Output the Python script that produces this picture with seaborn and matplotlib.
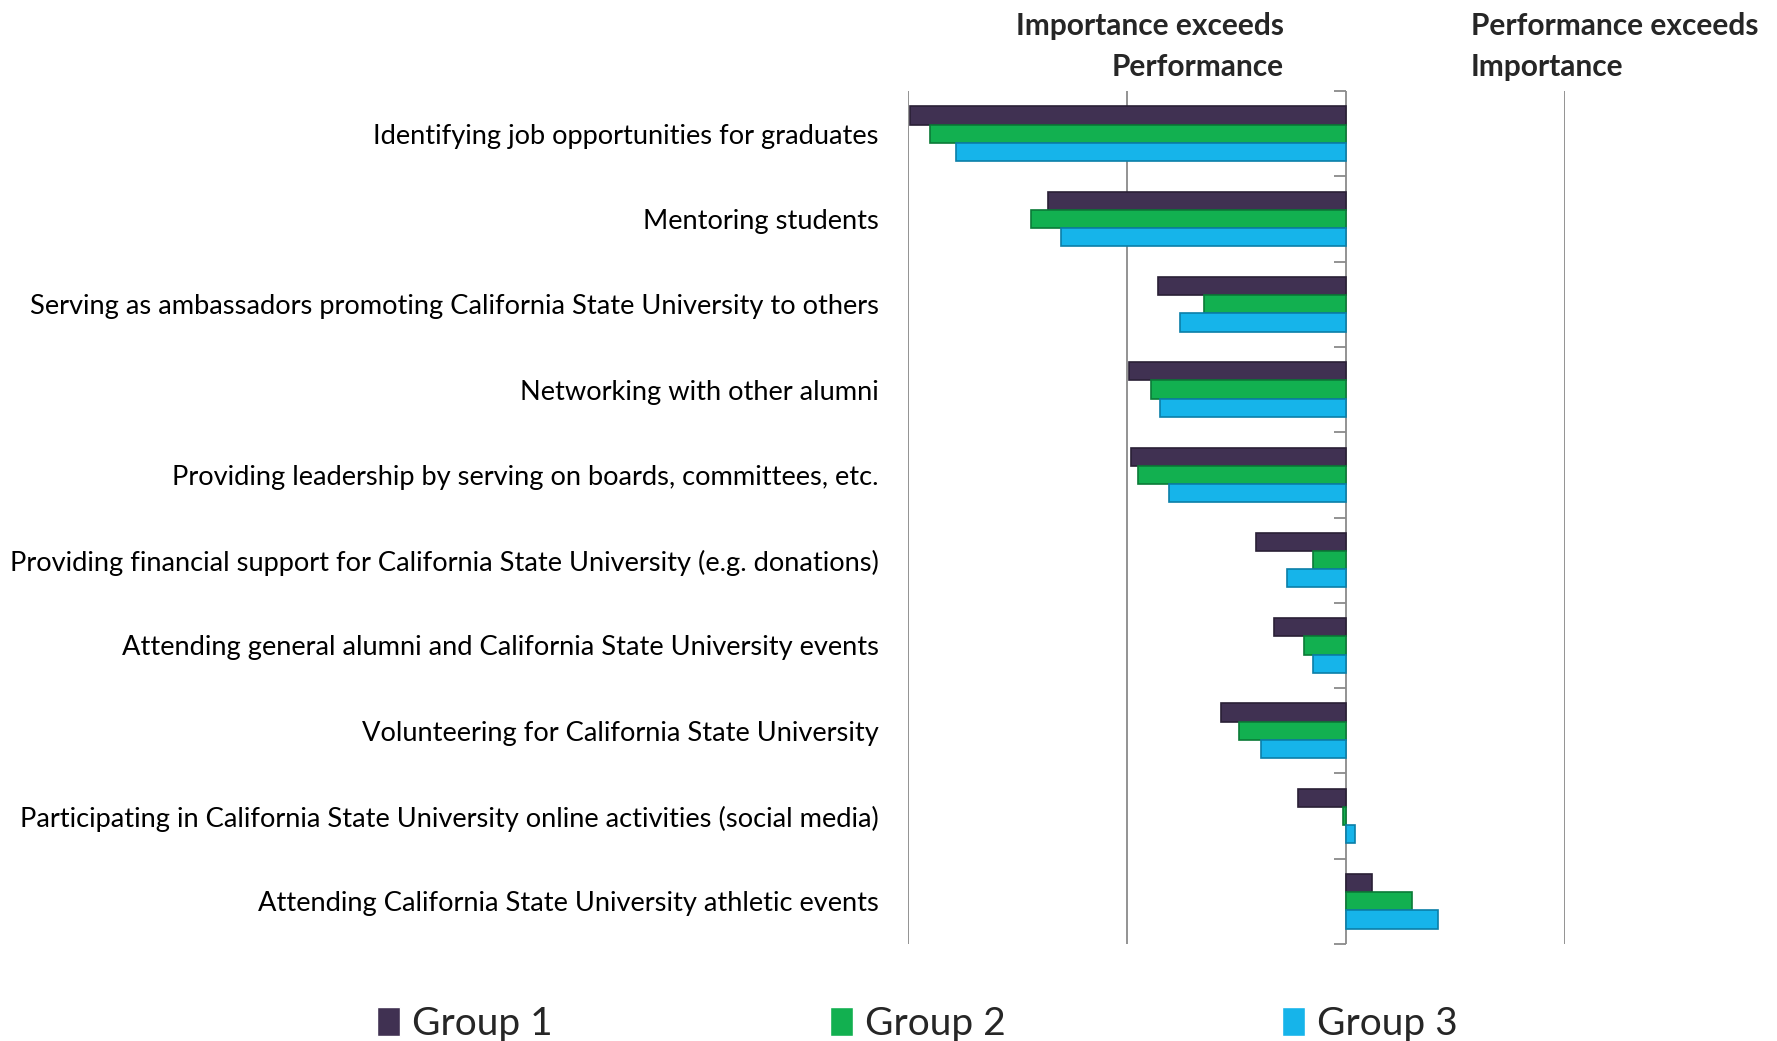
import matplotlib
matplotlib.use("Agg")
import matplotlib.pyplot as plt
import seaborn as sns
import pandas as pd
import numpy as np

categories = [
    "Identifying job opportunities for graduates",
    "Mentoring students",
    "Serving as ambassadors promoting California State University to others",
    "Networking with other alumni",
    "Providing leadership by serving on boards, committees, etc.",
    "Providing financial support for California State University (e.g. donations)",
    "Attending general alumni and California State University events",
    "Volunteering for California State University",
    "Participating in California State University online activities (social media)",
    "Attending California State University athletic events",
]
group1 = [-1.99, -1.36, -0.86, -0.99, -0.98, -0.41, -0.33, -0.57, -0.22, 0.12]
group2 = [-1.90, -1.44, -0.65, -0.89, -0.95, -0.15, -0.19, -0.49, -0.015, 0.30]
group3 = [-1.78, -1.30, -0.76, -0.85, -0.81, -0.27, -0.15, -0.39, 0.04, 0.42]
groups = ["Group 1", "Group 2", "Group 3"]
colors = ["#403152", "#12b050", "#16b4ea"]
edges = ["#2a2036", "#0b7a37", "#0b7fa8"]

df = pd.DataFrame({
    "category": categories * 3,
    "value": group1 + group2 + group3,
    "group": [g for g in groups for _ in categories],
})

sns.set_theme(style="white")
plt.rcParams["font.family"] = ["Lato", "DejaVu Sans"]

fig = plt.figure(figsize=(17.77, 10.41), dpi=100)
ax = fig.add_axes([908/1777, 1 - 944/1041, (1565-908)/1777, (944-91)/1041])

sns.barplot(data=df, y="category", x="value", hue="group", hue_order=groups,
            palette=colors, orient="h", width=0.64, ax=ax, order=categories,
            saturation=1, legend=True, zorder=3)

for i, cont in enumerate(ax.containers):
    for p in cont:
        p.set_edgecolor(edges[i])
        p.set_linewidth(1.2)
        p.set_zorder(3)

ax.set_xlim(-2, 1)
ax.set_ylim(9.5, -0.5)
ax.set_xticks([-2, -1, 1])
ax.set_xticklabels([])
ax.tick_params(axis="x", length=0)
ax.grid(axis="x", color="#8a8a8a", linewidth=1.3)
ax.grid(axis="y", visible=False)
ax.set_axisbelow(True)
for s in ax.spines.values():
    s.set_visible(False)
ax.set_xlabel("")
ax.set_ylabel("")
ax.tick_params(axis="y", length=0, pad=21, labelsize=19.6)
for lab in ax.get_yticklabels():
    lab.set_color("black")

ax.axvline(0, color="#8a8a8a", linewidth=1.3, zorder=1)
sec = ax.secondary_yaxis(2/3)
sec.set_yticks(np.arange(-0.5, 10, 1.0))
sec.set_yticklabels([])
sec.tick_params(axis="y", which="both", direction="in", length=9, width=1.3,
                color="#8a8a8a", left=False, right=True)
for k in sec.spines:
    sec.spines[k].set_visible(False)

handles, labels = ax.get_legend_handles_labels()
ax.get_legend().remove()
fig.legend(handles, labels, loc="center left", bbox_to_anchor=(377/1777, 1 - 1024/1041),
           ncol=3, frameon=False, fontsize=28, handlelength=0.6, handleheight=0.75,
           handletextpad=0.3, columnspacing=7.12, borderaxespad=0, borderpad=0)

fig.text(1284/1777, 1 - 12/1041, "Importance exceeds\nPerformance", ha="right", va="top",
         multialignment="right", fontsize=21.5, fontweight="bold", linespacing=1.55)
fig.text(1471/1777, 1 - 12/1041, "Performance exceeds\nImportance", ha="left", va="top",
         multialignment="left", fontsize=21.5, fontweight="bold", linespacing=1.55)

fig.savefig("out.png", dpi=100)
